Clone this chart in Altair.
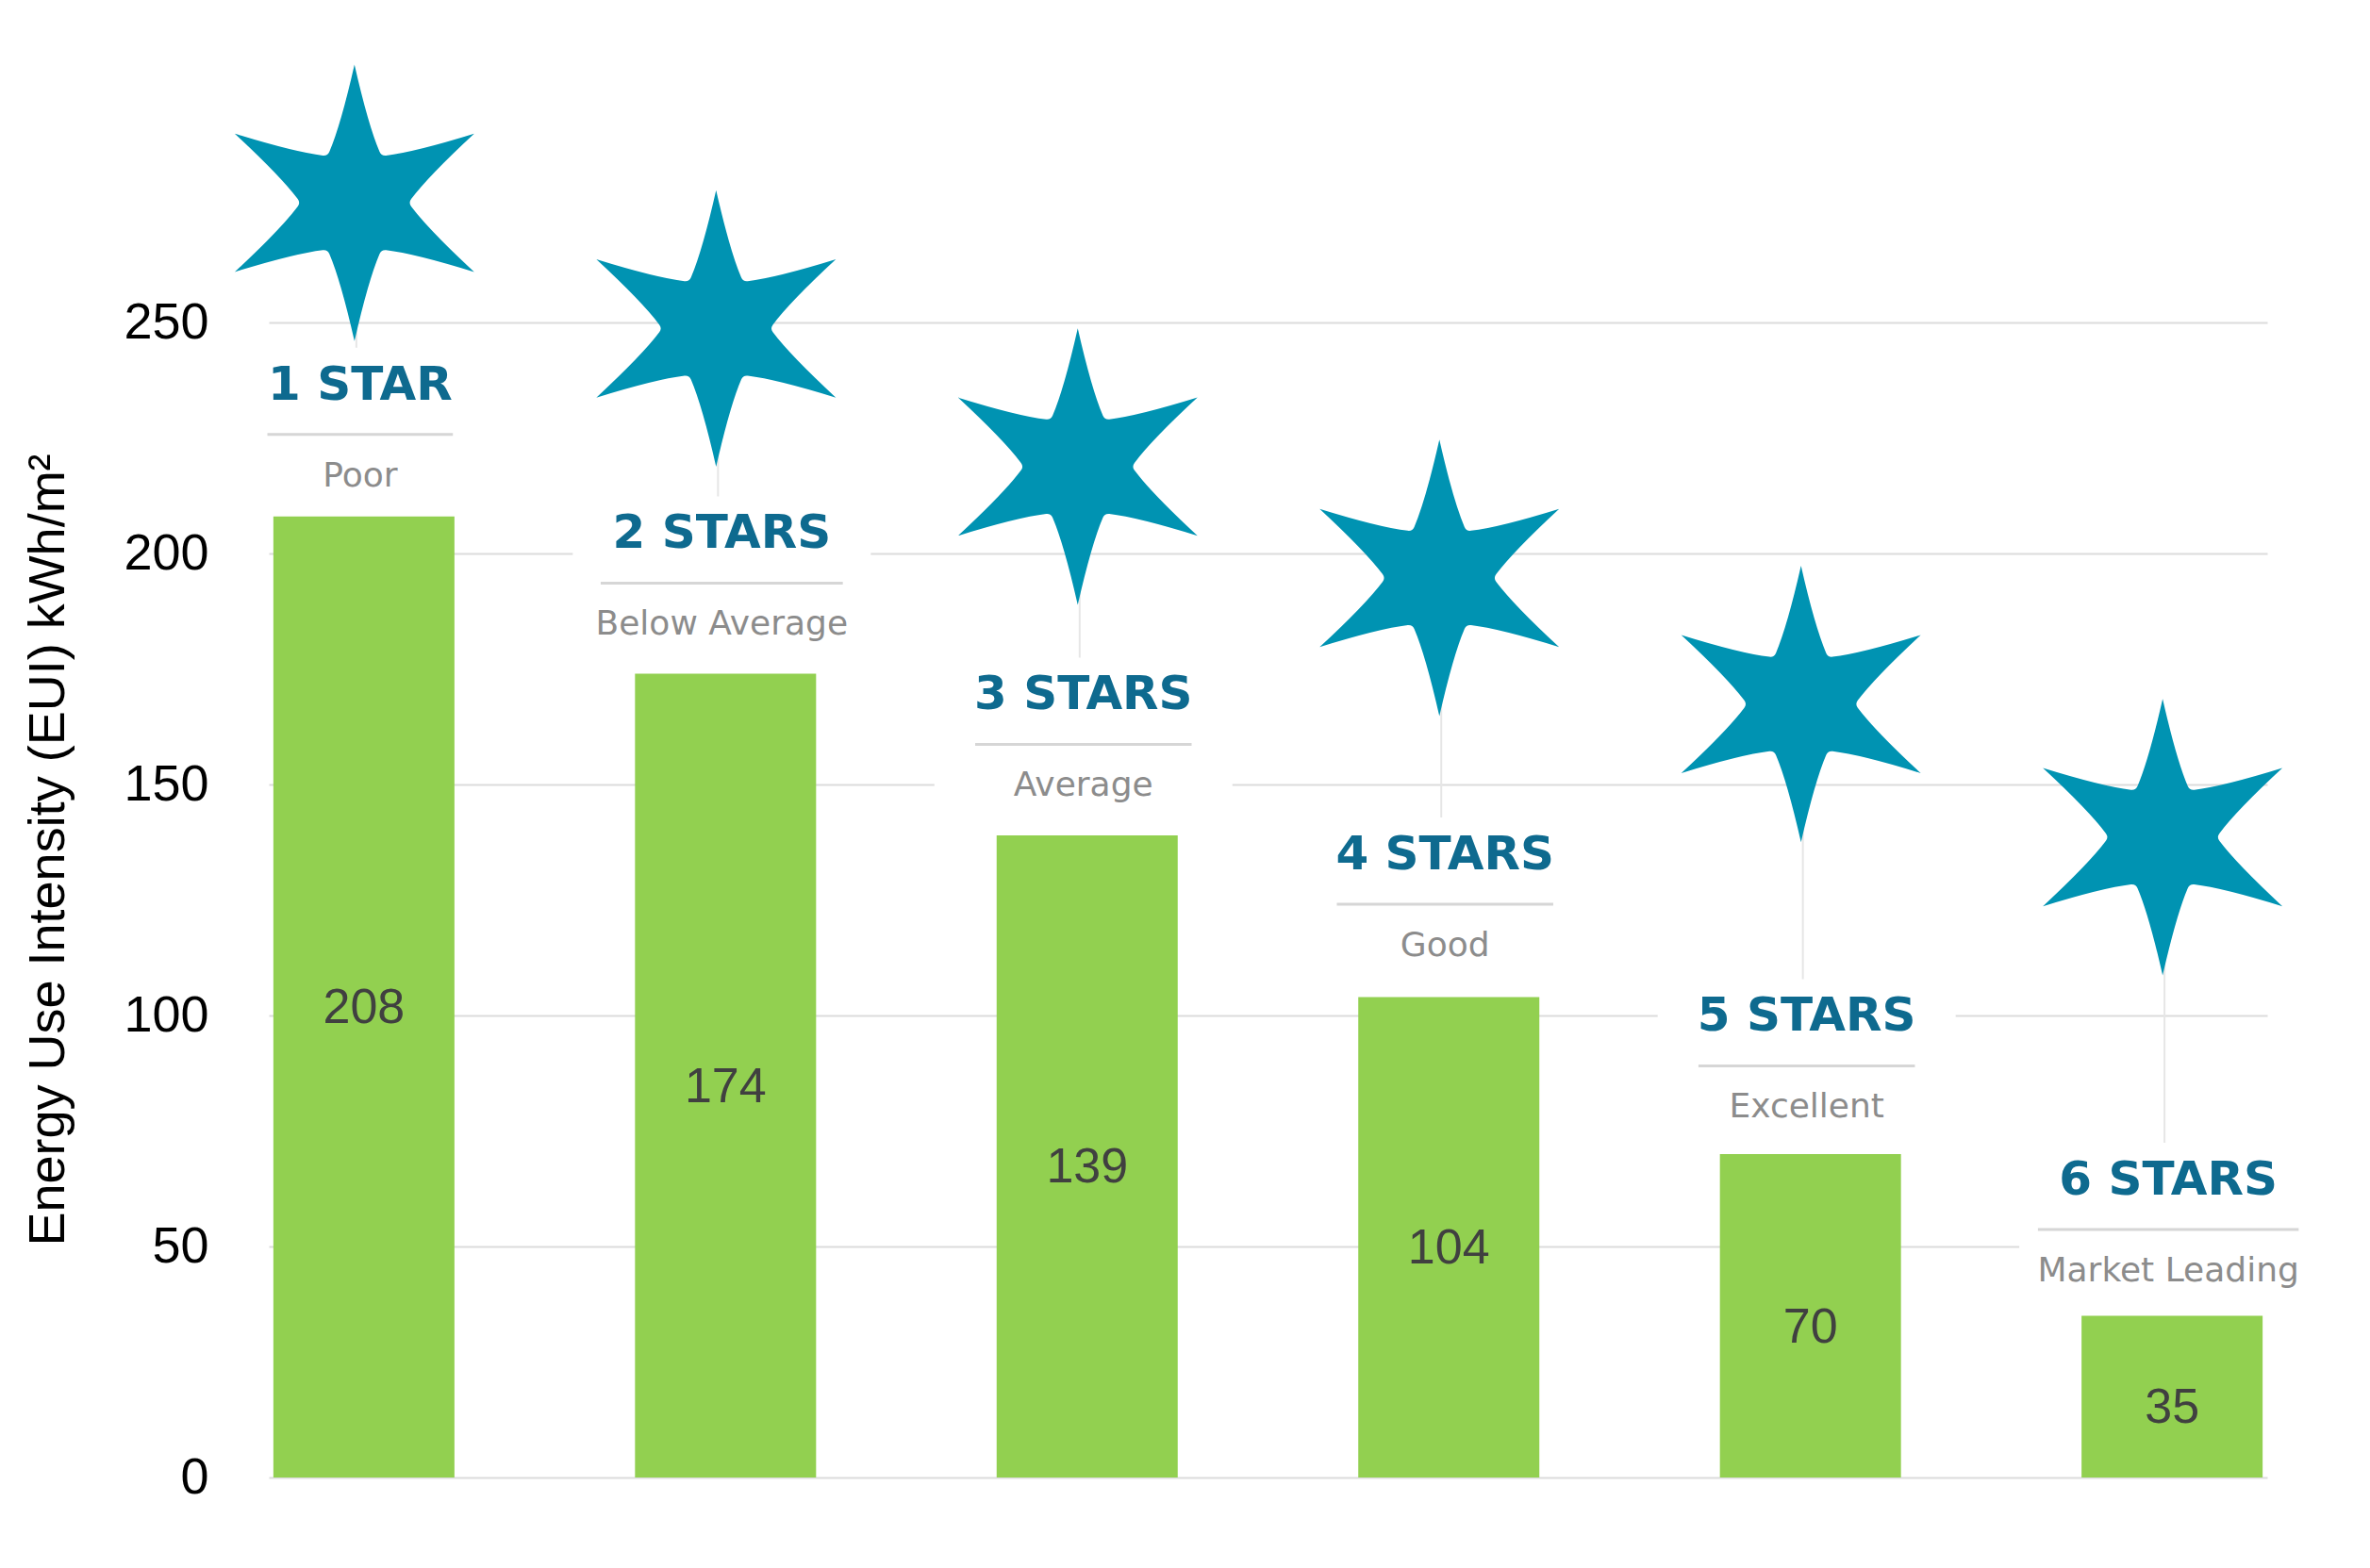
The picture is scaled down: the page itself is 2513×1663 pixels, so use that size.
import math
import altair as alt
import pandas as pd

# ---- data ----
ratings = ["1 STAR", "2 STARS", "3 STARS", "4 STARS", "5 STARS", "6 STARS"]
descriptors = ["Poor", "Below Average", "Average", "Good", "Excellent", "Market Leading"]
eui = [208, 174, 139, 104, 70, 35]
# height (in axis units) at which each star icon / rating label sits
star_level = [275.9, 248.7, 218.8, 194.7, 167.4, 138.6]
label_level = [236.4, 204.2, 169.3, 134.7, 99.7, 64.3]
y_ticks = [0, 50, 100, 150, 200, 250]

# ---- styling ----
GREEN = "#92d050"
TEAL = "#0093b2"
TITLE_BLUE = "#0e6a8f"
SUB_GREY = "#8c8c8c"


def star_path(r_in=0.39, ctrl_a=0.56, ctrl_b=0.1, f=0.14):
    """Six-pointed star, slightly concave sides, rounded inner corners, in [-1, 1]."""
    def P(phi, a, b):
        return (a * math.cos(phi) - b * math.sin(phi), a * math.sin(phi) + b * math.cos(phi))

    def lerp(p, q, t):
        return (p[0] + (q[0] - p[0]) * t, p[1] + (q[1] - p[1]) * t)

    ia = r_in * math.cos(math.radians(30))
    ib = r_in * math.sin(math.radians(30))
    phis = [math.radians(-90 + 60 * k) for k in range(6)]
    fmt = lambda p: f"{p[0]:.4f},{p[1]:.4f}"
    d = ""
    for k, phi in enumerate(phis):
        nphi = phis[(k + 1) % 6]
        c_minus = P(phi, ctrl_a, -ctrl_b)
        tip = P(phi, 1, 0)
        c_plus = P(phi, ctrl_a, ctrl_b)
        v = P(phi, ia, ib)
        c_next = P(nphi, ctrl_a, -ctrl_b)
        if k == 0:
            v_prev = P(phi, ia, -ib)
            d += "M" + fmt(lerp(v_prev, c_minus, f))
        a_pt = lerp(v, c_plus, f)
        b_pt = lerp(v, c_next, f)
        d += "Q" + fmt(c_minus) + " " + fmt(tip)
        d += "Q" + fmt(c_plus) + " " + fmt(a_pt)
        d += "Q" + fmt(v) + " " + fmt(b_pt)
    return d + "Z"


df = pd.DataFrame({
    "idx": list(range(len(ratings))),
    "rating": ratings,
    "desc": descriptors,
    "eui": eui,
    "star": star_level,
    "label": label_level,
})
# separator under each rating title: as long as the wider of the two texts
half = [max(len(r) * 0.0855, len(d) * 0.0515) / 2 for r, d in zip(ratings, descriptors)]
df["x0"] = df["idx"] - pd.Series(half)
df["x1"] = df["idx"] + pd.Series(half)

W, H = 2119, 1519
xsc = alt.Scale(domain=[-0.25, 5.25], nice=False, zero=False)
ysc = alt.Scale(domain=[0, 310], nice=False, zero=True)
yax = alt.Axis(
    values=y_ticks,
    title="Energy Use Intensity (EUI) kWh/m²",
    grid=True, gridColor="#dcdcdc", gridWidth=2,
    domain=False, ticks=False, tickSize=0,
    labelFont="Liberation Sans", labelFontSize=54, labelColor="#000000",
    labelPadding=64,
    titleFont="Liberation Sans", titleFontSize=54, titleFontWeight="normal",
    titleColor="#000000", titleX=-234, titleY=853, titleAlign="center",
    titleBaseline="middle", titleAngle=270,
)

X = alt.X("idx:Q", scale=xsc, axis=None)
base = alt.Chart(df)

connectors = base.mark_rule(color="#e6e6e6", strokeWidth=2, xOffset=-8).encode(
    x=X,
    y=alt.Y("star:Q", scale=ysc, axis=yax),
    y2="label:Q",
)

boxes = base.mark_rect(
    color="white", xOffset=-162, x2Offset=154, yOffset=-40, y2Offset=126
).encode(
    x=X, x2="idx:Q",
    y=alt.Y("label:Q", scale=ysc, axis=yax), y2="label:Q",
)

separators = base.mark_rule(
    color="#d6d6d6", strokeWidth=3, yOffset=52, xOffset=-4, x2Offset=-4
).encode(
    x=alt.X("x0:Q", scale=xsc, axis=None), x2="x1:Q",
    y=alt.Y("label:Q", scale=ysc, axis=yax),
)

titles = base.mark_text(
    font="DejaVu Sans", fontWeight="bold", fontSize=50, color=TITLE_BLUE,
    align="center", baseline="middle", dx=-4,
).encode(x=X, y=alt.Y("label:Q", scale=ysc, axis=yax), text="rating:N")

subtitles = base.mark_text(
    font="DejaVu Sans", fontSize=36, color=SUB_GREY,
    align="center", baseline="middle", dy=96, dx=-4,
).encode(x=X, y=alt.Y("label:Q", scale=ysc, axis=yax), text="desc:N")

stars = base.mark_point(
    shape=star_path(), size=86000, filled=True, color=TEAL, opacity=1,
    strokeWidth=0, xOffset=-10,
).encode(x=X, y=alt.Y("star:Q", scale=ysc, axis=yax))

bars = base.mark_bar(color=GREEN, size=192).encode(
    x=X, y=alt.Y("eui:Q", scale=ysc, axis=yax),
)

values = base.transform_calculate(mid="datum.eui / 2").mark_text(
    font="Liberation Sans", fontSize=52, color="#404040",
    align="center", baseline="middle", dy=12,
).encode(x=X, y=alt.Y("mid:Q", scale=ysc, axis=yax), text="eui:Q")

chart = alt.layer(
    connectors, boxes, separators, titles, subtitles, stars, bars, values
).properties(
    width=W, height=H,
    padding={"left": 277, "top": 40, "right": 100, "bottom": 80},
    autosize=alt.AutoSizeParams(type="none"),
    background="white",
).configure_view(strokeWidth=0)

chart.save("out.html", embed_options={"renderer": "svg", "actions": False})
